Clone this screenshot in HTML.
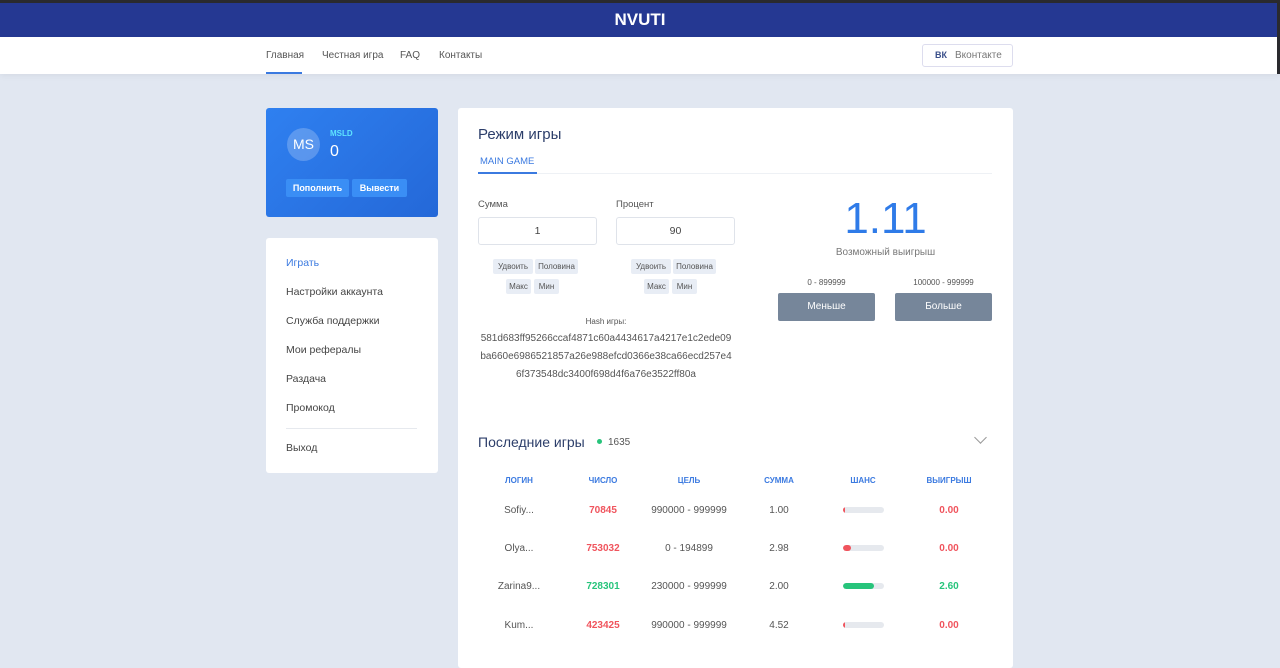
<!DOCTYPE html>
<html><head><meta charset="utf-8"><style>
*{margin:0;padding:0;box-sizing:border-box}
body{width:1280px;height:653px;overflow:hidden;background:#e1e7f1;font-family:"Liberation Sans",sans-serif;position:relative;color:#444}
.a{position:absolute}
.top{left:0;top:0;width:1280px;height:3px;background:#2a2a2e}
.hdr{left:0;top:3px;width:1280px;height:34px;background:#253892;color:#fff;font-weight:bold;font-size:17px;text-align:center;line-height:34px}
.nav{left:0;top:37px;width:1280px;height:37px;background:#fff;box-shadow:0 2px 6px rgba(0,0,0,.05)}
.nav span{position:absolute;top:13px;font-size:10px;color:#555}
.vk{left:922px;top:44px;width:91px;height:23px;border:1px solid #dde;border-radius:3px;font-size:10px;color:#777;line-height:21px;padding-left:32px}
.vk b{position:absolute;left:12px;color:#3a4f8a;font-size:9px}
.prof{left:266px;top:108px;width:172px;height:109px;background:linear-gradient(135deg,#2f80f0,#2468d8);border-radius:3px;color:#fff}
.av{left:21px;top:20px;width:33px;height:33px;border-radius:50%;background:rgba(255,255,255,.22);font-size:14px;line-height:33px;text-align:center}
.btn{top:71px;height:18px;background:#3a8ef5;font-size:9px;font-weight:bold;line-height:18px;text-align:center;border-radius:2px}
.menu{left:266px;top:238px;width:172px;height:235px;background:#fff;border-radius:3px}
.menu span{position:absolute;left:20px;font-size:10.5px;color:#444}
.card{left:458px;top:108px;width:555px;height:560px;background:#fff;border-radius:3px}
.lbl{font-size:9.5px;color:#555}
.inp{height:28px;width:119px;border:1px solid #dfe3ea;border-radius:3px;text-align:center;line-height:26px;font-size:10.5px;color:#444}
.sm{height:15px;background:#e8edf5;font-size:8px;line-height:15px;text-align:center;color:#555;border-radius:2px}
.gb{top:185px;width:97px;height:28px;background:#76869a;color:#fff;font-size:10px;text-align:center;line-height:28px;border-radius:2px}
.th{top:368px;font-size:8px;font-weight:bold;color:#3b7ae0;width:100px;text-align:center}
.td{font-size:10px;width:100px;text-align:center;color:#555}
.r{color:#f0545d;font-weight:bold}.g{color:#27c47b;font-weight:bold}
.bar{width:41px;height:6px;border-radius:3px;background:#e6e9ee;overflow:hidden}
.bar i{display:block;height:6px;border-radius:3px}
</style></head><body>
<div class="a top"></div>
<div class="a hdr">NVUTI</div>
<div class="a nav">
<span style="left:266px">Главная</span><span style="left:322px">Честная игра</span><span style="left:400px">FAQ</span><span style="left:439px">Контакты</span>
<div class="a" style="left:266px;top:35px;width:36px;height:2px;background:#3b7ae0"></div>
</div>
<div class="a vk"><b>ВК</b>Вконтакте</div>
<div class="a" style="left:1277px;top:3px;width:3px;height:71px;background:#2a2a2e"></div>

<div class="a prof">
<div class="a av">MS</div>
<div class="a" style="left:64px;top:21px;font-size:8px;font-weight:bold;color:#5ee4ff">MSLD</div>
<div class="a" style="left:64px;top:35px;font-size:16px">0</div>
<div class="a btn" style="left:20px;width:63px">Пополнить</div>
<div class="a btn" style="left:86px;width:55px">Вывести</div>
</div>

<div class="a menu">
<span style="top:19px;color:#3b7ae0">Играть</span>
<span style="top:48px">Настройки аккаунта</span>
<span style="top:77px">Служба поддержки</span>
<span style="top:106px">Мои рефералы</span>
<span style="top:135px">Раздача</span>
<span style="top:164px">Промокод</span>
<div class="a" style="left:20px;top:190px;width:131px;height:1px;background:#e6e9ee"></div>
<span style="top:204px">Выход</span>
</div>

<div class="a card">
<div class="a" style="left:20px;top:18px;font-size:15px;color:#2c3e6a">Режим игры</div>
<div class="a" style="left:22px;top:48px;font-size:9.5px;color:#3b7ae0">MAIN GAME</div>
<div class="a" style="left:20px;top:65px;width:514px;height:1px;background:#eef1f5"></div>
<div class="a" style="left:20px;top:64px;width:59px;height:2px;background:#3b7ae0"></div>

<div class="a lbl" style="left:20px;top:91px">Сумма</div>
<div class="a lbl" style="left:158px;top:91px">Процент</div>
<div class="a inp" style="left:20px;top:109px">1</div>
<div class="a inp" style="left:158px;top:109px">90</div>
<div class="a sm" style="left:35px;top:151px;width:40px">Удвоить</div>
<div class="a sm" style="left:77px;top:151px;width:43px">Половина</div>
<div class="a sm" style="left:48px;top:171px;width:25px">Макс</div>
<div class="a sm" style="left:76px;top:171px;width:25px">Мин</div>
<div class="a sm" style="left:173px;top:151px;width:40px">Удвоить</div>
<div class="a sm" style="left:215px;top:151px;width:43px">Половина</div>
<div class="a sm" style="left:186px;top:171px;width:25px">Макс</div>
<div class="a sm" style="left:214px;top:171px;width:25px">Мин</div>
<div class="a" style="left:20px;top:209px;width:256px;text-align:center;font-size:8px;color:#555">Hash игры:</div>
<div class="a" style="left:18px;top:222px;width:260px;text-align:center;font-size:10px;color:#555;line-height:18px">581d683ff95266ccaf4871c60a4434617a4217e1c2ede09 ba660e6986521857a26e988efcd0366e38ca66ecd257e4 6f373548dc3400f698d4f6a76e3522ff80a</div>

<div class="a" style="left:310px;top:86px;width:235px;text-align:center;font-size:44px;color:#2f7be8">1.11</div>
<div class="a" style="left:310px;top:139px;width:235px;text-align:center;font-size:10px;color:#777">Возможный выигрыш</div>
<div class="a" style="left:320px;top:170px;width:97px;text-align:center;font-size:8px;color:#555">0 - 899999</div>
<div class="a" style="left:437px;top:170px;width:97px;text-align:center;font-size:8px;color:#555">100000 - 999999</div>
<div class="a gb" style="left:320px">Меньше</div>
<div class="a gb" style="left:437px">Больше</div>

<div class="a" style="left:20px;top:326px;font-size:14px;color:#2c3e6a">Последние игры</div>
<div class="a" style="left:139px;top:331px;width:5px;height:5px;border-radius:50%;background:#27c47b"></div>
<div class="a" style="left:150px;top:329px;font-size:10px;color:#555">1635</div>
<div class="a" style="left:518px;top:325px;width:9px;height:9px;border-right:1px solid #999;border-bottom:1px solid #999;transform:rotate(45deg)"></div>

<div class="a th" style="left:11px">ЛОГИН</div>
<div class="a th" style="left:95px">ЧИСЛО</div>
<div class="a th" style="left:181px">ЦЕЛЬ</div>
<div class="a th" style="left:271px">СУММА</div>
<div class="a th" style="left:355px">ШАНС</div>
<div class="a th" style="left:441px">ВЫИГРЫШ</div>

<div class="a td" style="left:11px;top:397px">Sofiy...</div>
<div class="a td r" style="left:95px;top:397px">70845</div>
<div class="a td" style="left:181px;top:397px">990000 - 999999</div>
<div class="a td" style="left:271px;top:397px">1.00</div>
<div class="a bar" style="left:385px;top:399px"><i style="width:2px;background:#f0545d"></i></div>
<div class="a td r" style="left:441px;top:397px">0.00</div>

<div class="a td" style="left:11px;top:435px">Olya...</div>
<div class="a td r" style="left:95px;top:435px">753032</div>
<div class="a td" style="left:181px;top:435px">0 - 194899</div>
<div class="a td" style="left:271px;top:435px">2.98</div>
<div class="a bar" style="left:385px;top:437px"><i style="width:8px;background:#f0545d"></i></div>
<div class="a td r" style="left:441px;top:435px">0.00</div>

<div class="a td" style="left:11px;top:473px">Zarina9...</div>
<div class="a td g" style="left:95px;top:473px">728301</div>
<div class="a td" style="left:181px;top:473px">230000 - 999999</div>
<div class="a td" style="left:271px;top:473px">2.00</div>
<div class="a bar" style="left:385px;top:475px"><i style="width:31px;background:#27c47b"></i></div>
<div class="a td g" style="left:441px;top:473px">2.60</div>

<div class="a td" style="left:11px;top:512px">Kum...</div>
<div class="a td r" style="left:95px;top:512px">423425</div>
<div class="a td" style="left:181px;top:512px">990000 - 999999</div>
<div class="a td" style="left:271px;top:512px">4.52</div>
<div class="a bar" style="left:385px;top:514px"><i style="width:2px;background:#f0545d"></i></div>
<div class="a td r" style="left:441px;top:512px">0.00</div>
</div>
</body></html>
